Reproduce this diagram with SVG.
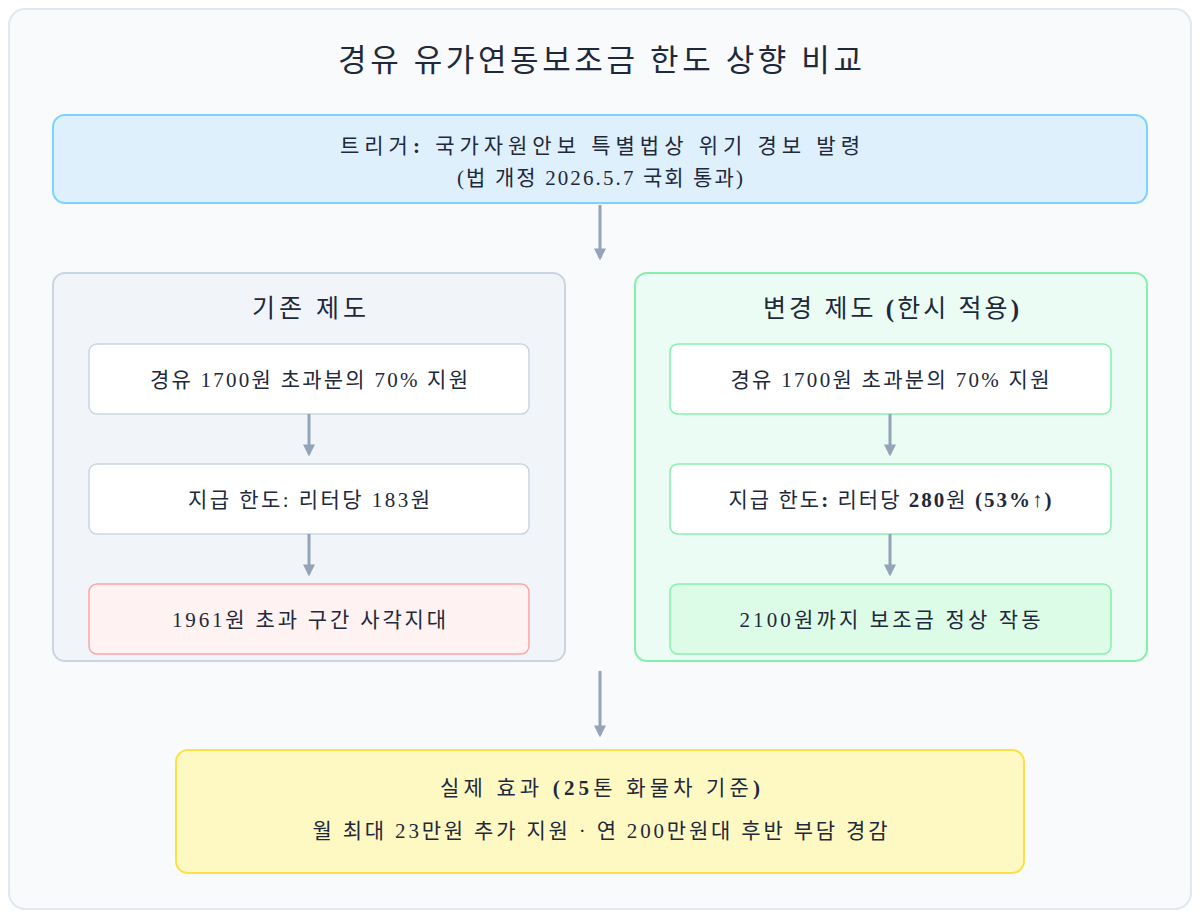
<svg xmlns="http://www.w3.org/2000/svg" width="1200" height="918" viewBox="0 0 1200 918">
<style>
text{font-family:"Liberation Serif","Noto Sans CJK KR",serif;fill:#1e293b;text-anchor:middle}
.t{font-size:21px}
.h{font-size:25px}
.box{fill:#fff;stroke:#cbd5e1;stroke-width:1.5}
.gbox{fill:#fff;stroke:#86efac;stroke-width:1.5}
.ar{stroke:#94a3b8;stroke-width:3;fill:none;marker-end:url(#m)}
</style>
<defs><marker id="m" viewBox="0 0 10 10" refX="8" refY="5" markerWidth="4" markerHeight="4" orient="auto"><path d="M0,0L10,5L0,10z" fill="#94a3b8"/></marker></defs>
<rect x="9" y="9" width="1182" height="900" rx="16" fill="#f8fafc" stroke="#e2e8f0" stroke-width="2"/>
<text x="600" y="71" font-size="31" textLength="524" lengthAdjust="spacing">경유 유가연동보조금 한도 상향 비교</text>
<g id="trigger"><rect x="53" y="115" width="1094" height="88" rx="12" fill="#dff0fd" stroke="#7dd3fc" stroke-width="2"/>
<text class="t" x="600" y="153" textLength="520" lengthAdjust="spacing">트리거<tspan font-weight="bold">:</tspan> 국가자원안보 특별법상 위기 경보 발령</text>
<text class="t" x="600" y="185" textLength="286" lengthAdjust="spacing">(법 개정 2026.5.7 국회 통과)</text></g>
<g id="old"><rect x="53" y="273" width="512" height="388" rx="12" fill="#f1f5f9" stroke="#cbd5e1" stroke-width="2"/>
<text class="h" x="309" y="317" textLength="114" lengthAdjust="spacing">기존 제도</text></g>
<g id="old1"><rect class="box" x="89" y="344" width="440" height="70" rx="8"/><text class="t" x="309" y="387" textLength="318" lengthAdjust="spacing">경유 1700원 초과분의 70% 지원</text></g>
<g id="old2"><rect class="box" x="89" y="464" width="440" height="70" rx="8"/><text class="t" x="309" y="507" textLength="242" lengthAdjust="spacing">지급 한도: 리터당 183원</text></g>
<g id="old3"><rect x="89" y="584" width="440" height="70" rx="8" fill="#fef2f2" stroke="#fca5a5" stroke-width="1.5"/><text class="t" x="309" y="627" textLength="274" lengthAdjust="spacing">1961원 초과 구간 사각지대</text></g>
<g id="new"><rect x="635" y="273" width="512" height="388" rx="12" fill="#eafcf3" stroke="#86efac" stroke-width="2"/>
<text class="h" x="891" y="317" textLength="256" lengthAdjust="spacing">변경 제도 <tspan font-weight="bold">(</tspan>한시 적용<tspan font-weight="bold">)</tspan></text></g>
<g id="new1"><rect class="gbox" x="670" y="344" width="441" height="70" rx="8"/><text class="t" x="890" y="387" textLength="319" lengthAdjust="spacing">경유 1700원 초과분의 70% 지원</text></g>
<g id="new2"><rect class="gbox" x="670" y="464" width="441" height="70" rx="8"/><text class="t" x="890" y="507" textLength="323" lengthAdjust="spacing">지급 한도<tspan font-weight="bold">:</tspan> 리터당 <tspan font-weight="bold">280</tspan>원 <tspan font-weight="bold">(53%↑)</tspan></text></g>
<g id="new3"><rect x="670" y="584" width="441" height="70" rx="8" fill="#dcfce7" stroke="#86efac" stroke-width="1.5"/><text class="t" x="890" y="627" textLength="301" lengthAdjust="spacing">2100원까지 보조금 정상 작동</text></g>
<g id="effect"><rect x="176" y="750" width="848" height="123" rx="12" fill="#fef9c3" stroke="#fde047" stroke-width="2"/>
<text class="t" x="600" y="795" textLength="320" lengthAdjust="spacing">실제 효과 <tspan font-weight="bold">(25</tspan>톤 화물차 기준<tspan font-weight="bold">)</tspan></text>
<text class="t" x="600" y="838" textLength="575" lengthAdjust="spacing">월 최대 23만원 추가 지원 · 연 200만원대 후반 부담 경감</text></g>
<g id="connectors">
<line class="ar" x1="600" y1="205" x2="600" y2="258"/>
<line class="ar" x1="309" y1="414" x2="309" y2="454"/>
<line class="ar" x1="309" y1="534" x2="309" y2="574"/>
<line class="ar" x1="890" y1="414" x2="890" y2="454"/>
<line class="ar" x1="890" y1="534" x2="890" y2="574"/>
<line class="ar" x1="600" y1="671" x2="600" y2="735"/>
</g>
</svg>
